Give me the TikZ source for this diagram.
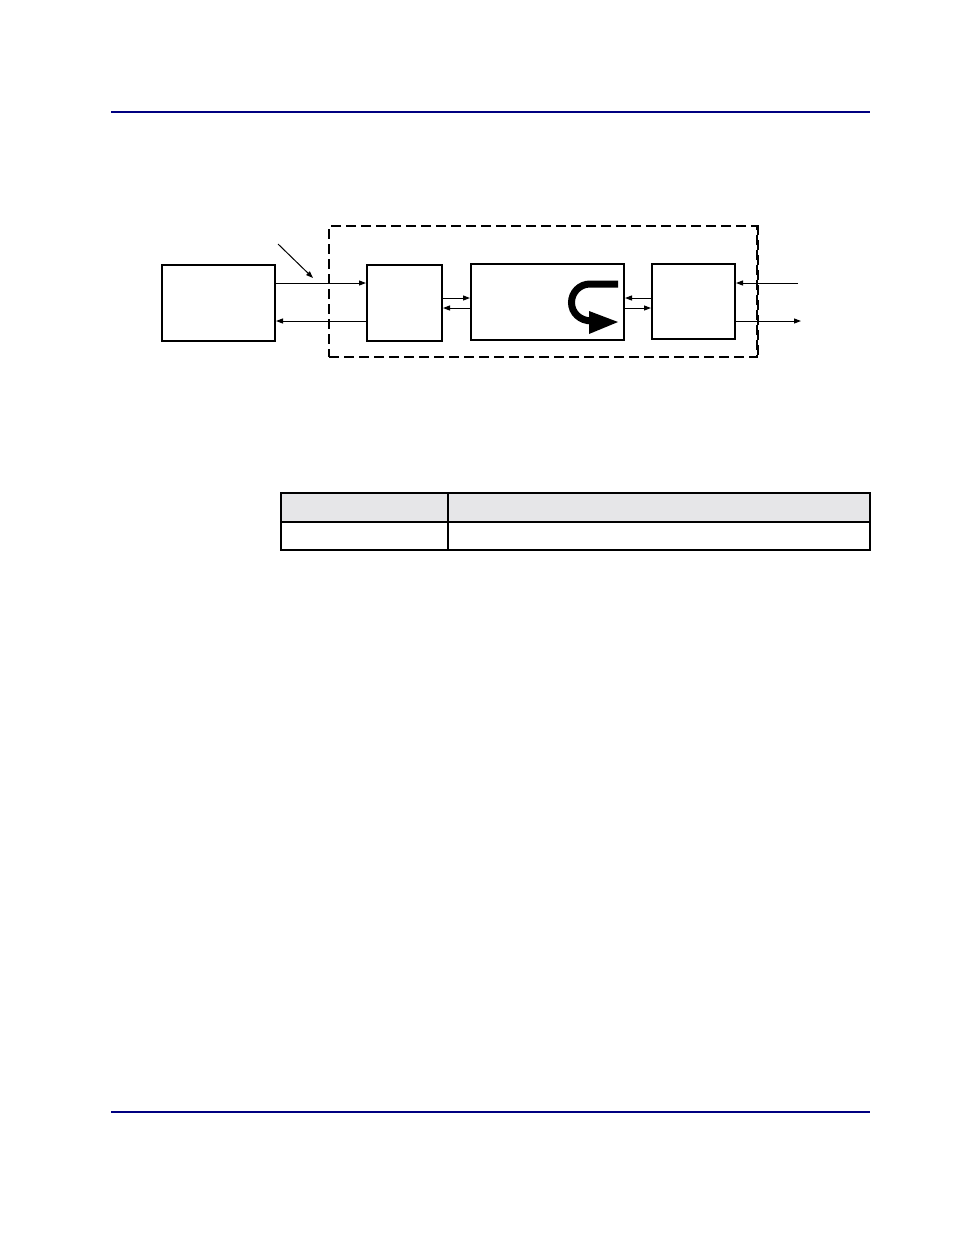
\documentclass[tikz,border=0pt]{standalone}
\usetikzlibrary{arrows.meta,calc}
\definecolor{rulenavy}{RGB}{0,0,128}
\definecolor{headgray}{RGB}{230,230,232}
\tikzset{
  blockbox/.style={draw, line width=2pt, minimum width=#1, inner sep=0pt},
  sig/.style={line width=1pt, -{Triangle[length=7pt,width=5pt]}},
  framebox/.style={draw, line width=1.2pt, dash pattern=on 10pt off 5pt, inner sep=0pt},
  tablerule/.style={line width=2pt},
}
\begin{document}
\begin{tikzpicture}[x=1pt,y=-1pt]
\useasboundingbox (0,0) rectangle (954,1235);
\fill[white] (0,0) rectangle (954,1235);

% header and footer rules
\coordinate (hl) at (111,112);
\coordinate (hr) at (870,112);
\draw[rulenavy, line width=2.2pt] (hl) -- (hr);
\coordinate (fl) at (111,1112);
\coordinate (fr) at (870,1112);
\draw[rulenavy, line width=1.3pt] (fl) -- (fr);

% dashed frame
\node[framebox, minimum width=428pt, minimum height=131pt] (frame) at (543,291.5) {};
\draw[line width=2pt, dash pattern=on 10pt off 5pt] (frame.north east) -- (frame.south east);

% blocks
\node[blockbox=113pt, minimum height=76pt] (A) at (218.5,303) {};
\node[blockbox=75pt, minimum height=76pt] (B) at (404.5,303) {};
\node[blockbox=153pt, minimum height=76pt] (C) at (547.5,302) {};
\node[blockbox=83pt, minimum height=75pt] (D) at (693.5,301.5) {};

% reference rows
\coordinate (r283) at (0,283);
\coordinate (r321) at (0,321);
\coordinate (r298) at (0,298);
\coordinate (r308) at (0,308);

% connectors
\draw[sig] (A.east |- r283) -- (B.west |- r283);
\draw[sig] (B.west |- r321) -- (A.east |- r321);
\draw[sig] (B.east |- r298) -- (C.west |- r298);
\draw[sig] (C.west |- r308) -- (B.east |- r308);
\draw[sig] (D.west |- r298) -- (C.east |- r298);
\draw[sig] (C.east |- r308) -- (D.west |- r308);
\coordinate (inR) at (798,283);
\coordinate (outR) at (801,321);
\draw[sig] (inR) -- (D.east |- r283);
\draw[sig] (D.east |- r321) -- (outR);

% pointer arrow
\coordinate (p1) at (278,244);
\coordinate (p2) at (313,278);
\draw[sig] (p1) -- (p2);

% U-turn arrow inside C
\draw[line width=7pt] (618,284) -- (590,284)
  .. controls (579.8,284) and (571.5,292.3) .. (571.5,302.5)
  .. controls (571.5,312.7) and (579.8,321) .. (592,321);
\fill (589,311) -- (618,322) -- (589,334) -- cycle;

% table
\coordinate (t1) at (281,493);
\coordinate (t2) at (870,522);
\coordinate (t3) at (870,550);
\fill[headgray] (t1) rectangle (t2);
\draw[tablerule] (t1) rectangle (t3);
\draw[tablerule] (281,522) -- (870,522);
\draw[tablerule] (448,493) -- (448,550);
\end{tikzpicture}
\end{document}
